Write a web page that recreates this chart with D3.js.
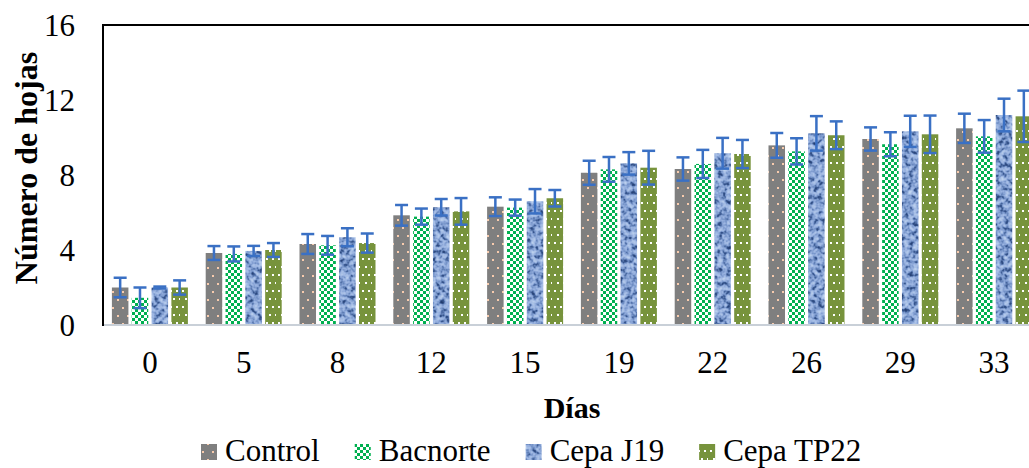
<!DOCTYPE html>
<html><head><meta charset="utf-8">
<script src="https://cdn.jsdelivr.net/npm/d3@7"></script>
<style>
html,body{margin:0;padding:0;background:#fff;}
svg{display:block;}
</style></head>
<body>
<svg id="chart" width="1029" height="468"></svg>
<script>
const days = ["0","5","8","12","15","19","22","26","29","33"];
const seriesNames = ["Control","Bacnorte","Cepa J19","Cepa TP22"];
const control   = [2.0, 3.84, 4.32, 5.85, 6.31, 8.12, 8.32, 9.58, 9.92, 10.49];
const controlErr= [0.52, 0.37, 0.53, 0.55, 0.5, 0.64, 0.62, 0.66, 0.62, 0.78];
const bacnorte  = [1.45, 3.79, 4.25, 5.78, 6.26, 8.3, 8.59, 9.26, 9.64, 10.06];
const bacnorteErr=[0.55, 0.4, 0.5, 0.43, 0.43, 0.66, 0.75, 0.7, 0.64, 0.87];
const cepaJ19   = [2.0, 3.95, 4.68, 6.28, 6.6, 8.62, 9.16, 10.22, 10.33, 11.2];
const cepaJ19Err= [0.05, 0.27, 0.48, 0.44, 0.65, 0.6, 0.82, 0.92, 0.83, 0.87];
const cepaTP22  = [2.0, 4.0, 4.37, 6.06, 6.76, 8.39, 9.12, 10.12, 10.17, 11.13];
const cepaTP22Err=[0.38, 0.37, 0.51, 0.71, 0.44, 0.9, 0.75, 0.74, 1.0, 1.37];
const yTicks = [0, 4, 8, 12, 16];
const xTitle = "Días";
const yTitle = "Número de hojas";

const values = [control, bacnorte, cepaJ19, cepaTP22];
const errors = [controlErr, bacnorteErr, cepaJ19Err, cepaTP22Err];
const FONT = "'Liberation Serif', 'Times New Roman', serif";

const svg = d3.select("#chart");
const defs = svg.append("defs");

// Control: gray with peach dots
const pC = defs.append("pattern").attr("id","pControl").attr("patternUnits","userSpaceOnUse")
  .attr("width",10).attr("height",16);
pC.append("rect").attr("width",10).attr("height",16).attr("fill","#7f7f7f");
pC.append("rect").attr("x",2).attr("y",3).attr("width",2).attr("height",2).attr("fill","#f8cbad");
pC.append("rect").attr("x",7).attr("y",11).attr("width",2).attr("height",2).attr("fill","#f8cbad");

// Bacnorte: green checkerboard
const pB = defs.append("pattern").attr("id","pBac").attr("patternUnits","userSpaceOnUse")
  .attr("width",6).attr("height",6);
pB.append("rect").attr("width",6).attr("height",6).attr("fill","#ffffff");
pB.append("rect").attr("x",0).attr("y",0).attr("width",3).attr("height",3).attr("fill","#00b050");
pB.append("rect").attr("x",3).attr("y",3).attr("width",3).attr("height",3).attr("fill","#00b050");

// TP22: olive with white dots
const pT = defs.append("pattern").attr("id","pTP").attr("patternUnits","userSpaceOnUse")
  .attr("width",12).attr("height",16);
pT.append("rect").attr("width",12).attr("height",16).attr("fill","#77933c");
[[2,2],[8,2],[5,10],[11,10]].forEach(([px,py])=>{
  pT.append("rect").attr("x",px).attr("y",py).attr("width",2).attr("height",2).attr("fill","#ffffff");
});

// J19: blue water texture via turbulence
const f = defs.append("filter").attr("id","fWater").attr("filterUnits","userSpaceOnUse")
  .attr("x",0).attr("y",0).attr("width",1100).attr("height",468)
  .attr("color-interpolation-filters","sRGB");
f.append("feTurbulence").attr("type","fractalNoise").attr("baseFrequency","0.22")
  .attr("numOctaves",2).attr("seed",7).attr("result","n");
f.append("feColorMatrix").attr("in","n").attr("type","matrix")
  .attr("values","1 0 0 0 0  1 0 0 0 0  1 0 0 0 0  0 0 0 0 1").attr("result","g");
const ct = f.append("feComponentTransfer").attr("in","g").attr("result","c");
ct.append("feFuncR").attr("type","table").attr("tableValues","0.12 0.14 0.22 0.45 0.60 0.68 0.75 0.80");
ct.append("feFuncG").attr("type","table").attr("tableValues","0.22 0.24 0.34 0.57 0.70 0.77 0.83 0.86");
ct.append("feFuncB").attr("type","table").attr("tableValues","0.40 0.44 0.56 0.78 0.88 0.91 0.94 0.96");
f.append("feComposite").attr("in","c").attr("in2","SourceGraphic").attr("operator","in");

const fills = ["url(#pControl)","url(#pBac)",null,"url(#pTP)"];

const plotLeft = 103, plotTop = 25, plotBottom = 325, step = 93.8;
const x0 = d3.scaleBand().domain(days).range([plotLeft, plotLeft + step*days.length]).padding(0);
const x1 = d3.scaleBand().domain(seriesNames).range([-38, 38]).paddingInner(0.167).paddingOuter(0);
const y = d3.scaleLinear().domain([0,16]).range([plotBottom, plotTop]);

// bars
seriesNames.forEach((s, si) => {
  const g = svg.append("g");
  const sel = g.selectAll("rect").data(days).join("rect")
    .attr("x", d => x0(d) + x0.bandwidth()/2 + x1(s))
    .attr("width", x1.bandwidth())
    .attr("y", (d,i) => y(values[si][i]))
    .attr("height", (d,i) => y(0) - y(values[si][i]));
  if (si === 2) sel.attr("fill","#8faadc").attr("filter","url(#fWater)");
  else sel.attr("fill", fills[si]);
});

// error bars
seriesNames.forEach((s, si) => {
  const g = svg.append("g").attr("stroke","#3a70c4").attr("stroke-width",2.5).attr("fill","none");
  days.forEach((d,i) => {
    const cx = x0(d) + x0.bandwidth()/2 + x1(s) + x1.bandwidth()/2;
    const v = values[si][i], e = errors[si][i];
    g.append("line").attr("x1",cx).attr("x2",cx).attr("y1",y(v+e)).attr("y2",y(v-e));
    g.append("line").attr("x1",cx-6.5).attr("x2",cx+6.5).attr("y1",y(v+e)).attr("y2",y(v+e));
    g.append("line").attr("x1",cx-6.5).attr("x2",cx+6.5).attr("y1",y(v-e)).attr("y2",y(v-e));
  });
});

// axes frame
svg.append("line").attr("x1",plotLeft).attr("x2",plotLeft+step*days.length).attr("y1",plotBottom).attr("y2",plotBottom)
  .attr("stroke","#c9d0d8").attr("stroke-width",2);
svg.append("line").attr("x1",plotLeft).attr("x2",plotLeft).attr("y1",plotTop).attr("y2",plotBottom+1)
  .attr("stroke","#000").attr("stroke-width",2);
svg.append("line").attr("x1",plotLeft-1).attr("x2",plotLeft+step*days.length).attr("y1",plotTop).attr("y2",plotTop)
  .attr("stroke","#000").attr("stroke-width",2);

// y axis labels
const yAxis = d3.axisLeft(y).tickValues(yTicks).tickSize(0).tickPadding(0);
const gy = svg.append("g").attr("transform",`translate(75,0)`).call(yAxis);
gy.select(".domain").remove();
gy.attr("font-family", FONT).attr("font-size",31);
gy.selectAll("text").attr("fill","#000").attr("dy","0.34em");

// x axis labels
const xAxis = d3.axisBottom(x0).tickSize(0).tickPadding(0);
const gx = svg.append("g").attr("transform",`translate(0,350)`).call(xAxis);
gx.select(".domain").remove();
gx.attr("font-family", FONT).attr("font-size",31);
gx.selectAll("text").attr("fill","#000").attr("dy","0.74em");

// titles
svg.append("text").attr("x",572).attr("y",418).attr("text-anchor","middle")
  .attr("font-family",FONT).attr("font-size",30).attr("font-weight","bold").text(xTitle);
svg.append("text").attr("transform","translate(37,168) rotate(-90)").attr("text-anchor","middle")
  .attr("font-family",FONT).attr("font-size",32).attr("font-weight","bold").text(yTitle);

// legend
const legendFills = ["url(#pControl)","url(#pBac)","#8faadc","url(#pTP)"];
let lx = 201;
seriesNames.forEach((s, si) => {
  const g = svg.append("g");
  const r = g.append("rect").attr("x",lx).attr("y",444).attr("width",16).attr("height",16)
    .attr("fill",legendFills[si]);
  if (si === 2) r.attr("filter","url(#fWater)");
  const t = g.append("text").attr("x",lx+24).attr("y",461).attr("font-family",FONT)
    .attr("font-size",31).text(s);
  const w = t.node().getComputedTextLength();
  lx = lx + 24 + w + 35;
});
</script>
</body></html>
